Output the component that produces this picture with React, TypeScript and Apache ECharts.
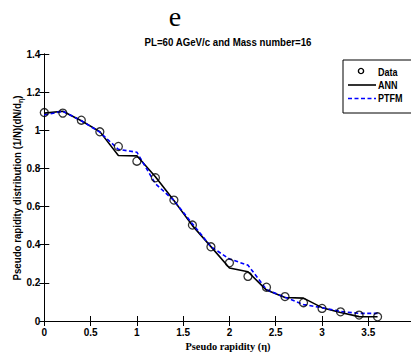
import React, { useEffect, useRef } from "react";
import * as echarts from "echarts";

// Pseudo rapidity values (eta)
const eta = [0, 0.2, 0.4, 0.6, 0.8, 1.0, 1.2, 1.4, 1.6, 1.8, 2.0, 2.2, 2.4, 2.6, 2.8, 3.0, 3.2, 3.4, 3.6];
// Experimental data (circles)
const dataValues = [1.093, 1.09, 1.053, 0.992, 0.915, 0.838, 0.751, 0.634, 0.503, 0.389, 0.305, 0.234, 0.177, 0.128, 0.096, 0.066, 0.048, 0.031, 0.022];
// ANN model (black solid)
const annValues = [1.09, 1.1, 1.05, 0.993, 0.868, 0.866, 0.756, 0.632, 0.5, 0.39, 0.278, 0.258, 0.162, 0.123, 0.12, 0.07, 0.045, 0.023, 0.022];
// PTFM model (blue dashed)
const ptfmValues = [1.08, 1.1, 1.05, 0.99, 0.9, 0.885, 0.72, 0.632, 0.51, 0.39, 0.325, 0.293, 0.165, 0.125, 0.086, 0.07, 0.05, 0.04, 0.04];

const xMin = 0;
const xMax = 4;
const xStep = 0.5;
const yMin = 0;
const yMax = 1.4;
const yStep = 0.2;

const titleLetter = "e";
const subtitle = "PL=60 AGeV/c and Mass number=16";
const xName = "Pseudo rapidity (\u03b7)";
const seriesNames = ["Data", "ANN", "PTFM"];

const SANS = "'Liberation Sans', Arial, sans-serif";
const SERIF = "'Liberation Serif', 'DejaVu Serif', serif";

export default function App() {
  const ref = useRef<HTMLDivElement>(null);

  useEffect(() => {
    document.body.style.margin = "0";
    if (!ref.current) return;
    const chart = echarts.init(ref.current, null, { renderer: "svg" });

    const tickLabel = {
      color: "#000",
      fontFamily: SANS,
      fontWeight: "bold" as const,
      fontSize: 10,
    };
    const axisLine = { show: true, lineStyle: { color: "#000", width: 1 } };
    const tick = { show: true, inside: true, length: 5, lineStyle: { color: "#000" } };

    const option: any = {
      animation: false,
      backgroundColor: "#fff",
      grid: { left: 44.3, top: 54, width: 370.3, height: 267, containLabel: false, outerBoundsMode: "none" },
      xAxis: [
        {
          type: "value", min: xMin, max: xMax, interval: xStep, position: "bottom",
          axisLine, axisTick: tick,
          axisLabel: { ...tickLabel, margin: 6, showMaxLabel: false },
          splitLine: { show: false },
        },
        {
          type: "value", min: xMin, max: xMax, interval: xStep, position: "top",
          axisLine, axisTick: tick, axisLabel: { show: false }, splitLine: { show: false },
        },
      ],
      yAxis: [
        {
          type: "value", min: yMin, max: yMax, interval: yStep, position: "left",
          axisLine, axisTick: tick,
          axisLabel: { ...tickLabel, margin: 4 },
          splitLine: { show: false },
        },
        {
          type: "value", min: yMin, max: yMax, interval: yStep, position: "right",
          axisLine, axisTick: tick, axisLabel: { show: false }, splitLine: { show: false },
        },
      ],
      series: [
        {
          name: seriesNames[1],
          type: "line",
          data: eta.map((x, i) => [x, annValues[i]]),
          symbol: "none",
          lineStyle: { color: "#000", width: 1.6 },
          z: 3,
        },
        {
          name: seriesNames[2],
          type: "line",
          data: eta.map((x, i) => [x, ptfmValues[i]]),
          symbol: "none",
          lineStyle: { color: "#0000ff", width: 1.6, type: [4, 2.5] },
          z: 4,
        },
        {
          name: seriesNames[0],
          type: "scatter",
          data: eta.map((x, i) => [x, dataValues[i]]),
          symbol: "circle",
          symbolSize: 8,
          itemStyle: { color: "rgba(0,0,0,0)", borderColor: "#000", borderWidth: 1.3 },
          z: 5,
        },
      ],
      graphic: [
        {
          type: "text",
          x: 175,
          y: 16,
          style: { text: titleLetter, font: `28px ${SERIF}`, fill: "#000", align: "center", verticalAlign: "middle" },
        },
        {
          type: "text",
          x: 228,
          y: 42.5,
          scaleX: 0.88,
          style: { text: subtitle, font: `bold 11px ${SANS}`, fill: "#000", align: "center", verticalAlign: "middle" },
        },
        {
          type: "text",
          x: 228,
          y: 346,
          scaleX: 0.94,
          style: { text: xName, font: `bold 11px ${SERIF}`, fill: "#000", align: "center", verticalAlign: "middle" },
        },
        {
          type: "text",
          x: 17,
          y: 188,
          rotation: Math.PI / 2,
          scaleX: 0.88,
          style: {
            text: "{a|Pseudo rapidity distribution (1/N)(dN/d}{s|\u03b7}{a|)}",
            align: "center",
            verticalAlign: "middle",
            rich: {
              a: { font: `bold 11px ${SANS}`, fill: "#000", lineHeight: 14 },
              s: { font: `bold 8px ${SANS}`, fill: "#000", lineHeight: 14, verticalAlign: "bottom", padding: [4, 0, 0, 0] },
            },
          },
        },
        // legend box
        {
          type: "rect",
          shape: { x: 343, y: 60, width: 72, height: 53 },
          style: { fill: "#fff", stroke: "#000", lineWidth: 1 },
          z: 10,
        },
        {
          type: "circle",
          shape: { cx: 361, cy: 71, r: 2.6 },
          style: { fill: "none", stroke: "#000", lineWidth: 1.4 },
          z: 11,
        },
        {
          type: "line",
          shape: { x1: 348, y1: 85, x2: 376, y2: 85 },
          style: { stroke: "#000", lineWidth: 1.6 },
          z: 11,
        },
        {
          type: "line",
          shape: { x1: 348, y1: 98.5, x2: 376, y2: 98.5 },
          style: { stroke: "#0000ff", lineWidth: 1.6, lineDash: [4, 2.5] },
          z: 11,
        },
        {
          type: "text",
          x: 378, y: 72, scaleX: 0.82,
          style: { text: seriesNames[0], font: `bold 11px ${SANS}`, fill: "#000", align: "left", verticalAlign: "middle" },
          z: 11,
        },
        {
          type: "text",
          x: 378, y: 85, scaleX: 0.82,
          style: { text: seriesNames[1], font: `bold 11px ${SANS}`, fill: "#000", align: "left", verticalAlign: "middle" },
          z: 11,
        },
        {
          type: "text",
          x: 378, y: 98.5, scaleX: 0.82,
          style: { text: seriesNames[2], font: `bold 11px ${SANS}`, fill: "#000", align: "left", verticalAlign: "middle" },
          z: 11,
        },
      ],
    };

    chart.setOption(option);
    return () => chart.dispose();
  }, []);

  return <div ref={ref} style={{ width: 411, height: 356 }} />;
}
